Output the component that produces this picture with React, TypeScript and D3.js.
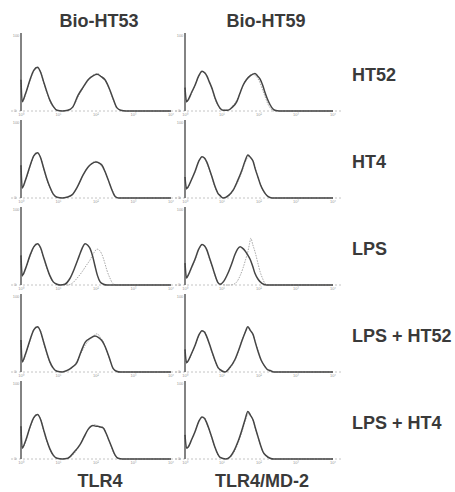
import React from 'react';
import * as d3 from 'd3';

// column headers, bottom axis names and row treatments
const columnTitles = ['Bio-HT53', 'Bio-HT59'];
const axisNames = ['TLR4', 'TLR4/MD-2'];
const rowLabels = ['HT52', 'HT4', 'LPS', 'LPS + HT52', 'LPS + HT4'];
const decadeLabels = ['10⁰', '10¹', '10²', '10³', '10⁴'];

type Pt = [number, number]; // [log10 fluorescence, % of max events]

// ---- TLR4 column (Bio-HT53)
const tlr4Ht52: Pt[] = [[0,40],[0.03,12],[0.12,22],[0.24,40],[0.34,52],[0.44,56],[0.52,50],[0.6,38],[0.68,26],[0.77,14],[0.86,6],[0.96,1],[1.1,0],[1.25,1],[1.38,5],[1.52,20],[1.65,30],[1.79,40],[1.92,45],[2.03,47],[2.14,44],[2.24,40],[2.37,27],[2.47,14],[2.56,4],[2.66,1],[2.8,0],[4,0]];
const tlr4Ht52Ctrl: Pt[] = [[0,38],[0.03,11],[0.12,21],[0.24,39],[0.34,51],[0.44,55],[0.52,51],[0.6,37],[0.68,25],[0.77,13],[0.86,5],[0.96,1],[1.1,0],[1.25,1],[1.4,6],[1.52,18],[1.65,29],[1.79,39],[1.92,46],[2.05,48],[2.16,43],[2.26,38],[2.38,25],[2.48,12],[2.58,3],[2.68,0],[4,0]];
const tlr4Ht4: Pt[] = [[0,42],[0.03,13],[0.12,23],[0.24,41],[0.34,54],[0.44,58],[0.52,52],[0.6,39],[0.68,26],[0.77,14],[0.86,5],[0.96,1],[1.1,0],[1.22,1],[1.36,4],[1.5,14],[1.65,29],[1.78,39],[1.89,44],[2.0,46],[2.08,45],[2.16,42],[2.24,34],[2.32,24],[2.42,11],[2.51,2],[2.6,0],[4,0]];
const tlr4Ht4Ctrl: Pt[] = [[0,40],[0.03,12],[0.12,22],[0.24,40],[0.34,53],[0.44,57],[0.52,53],[0.6,38],[0.68,25],[0.77,13],[0.86,5],[0.96,1],[1.1,0],[1.22,1],[1.38,5],[1.52,16],[1.66,30],[1.79,40],[1.9,45],[1.98,47],[2.08,44],[2.17,40],[2.26,31],[2.34,21],[2.44,9],[2.53,2],[2.62,0],[4,0]];
const tlr4Lps: Pt[] = [[0,38],[0.03,12],[0.12,21],[0.24,38],[0.34,49],[0.44,53],[0.52,48],[0.6,36],[0.68,24],[0.77,12],[0.86,4],[0.96,1],[1.05,0],[1.17,1],[1.3,8],[1.44,23],[1.55,37],[1.63,47],[1.71,53],[1.78,51],[1.84,47],[1.91,37],[1.97,25],[2.04,12],[2.11,4],[2.2,1],[2.3,0],[4,0]];
const tlr4LpsCtrl: Pt[] = [[0,36],[0.03,11],[0.12,20],[0.24,37],[0.34,48],[0.44,52],[0.52,47],[0.6,35],[0.68,23],[0.77,11],[0.86,4],[0.96,1],[1.1,0],[1.25,0],[1.36,2],[1.5,9],[1.63,17],[1.74,25],[1.84,32],[1.94,41],[2.03,46],[2.1,44],[2.16,39],[2.23,29],[2.29,19],[2.37,9],[2.45,2],[2.55,0],[4,0]];
const tlr4LpsHt52: Pt[] = [[0,41],[0.03,13],[0.12,23],[0.24,41],[0.34,54],[0.44,58],[0.52,52],[0.6,39],[0.68,26],[0.77,13],[0.86,5],[0.96,1],[1.1,0],[1.23,2],[1.36,6],[1.49,12],[1.6,26],[1.71,38],[1.84,43],[1.97,46],[2.07,44],[2.16,40],[2.23,34],[2.29,27],[2.37,16],[2.45,5],[2.55,1],[2.65,0],[4,0]];
const tlr4LpsHt52Ctrl: Pt[] = [[0,39],[0.03,12],[0.12,22],[0.24,40],[0.34,53],[0.44,57],[0.52,53],[0.6,38],[0.68,25],[0.77,12],[0.86,4],[0.96,1],[1.1,0],[1.2,1],[1.3,3],[1.44,10],[1.58,22],[1.71,34],[1.84,42],[1.95,47],[2.03,49],[2.12,44],[2.2,38],[2.3,25],[2.4,11],[2.5,2],[2.6,0],[4,0]];
const tlr4LpsHt4: Pt[] = [[0,42],[0.03,14],[0.12,23],[0.24,41],[0.34,53],[0.44,57],[0.52,51],[0.6,38],[0.68,25],[0.77,13],[0.86,5],[0.96,1],[1.1,0],[1.25,1],[1.4,8],[1.57,18],[1.68,28],[1.79,38],[1.92,43],[2.0,42],[2.05,42],[2.12,41],[2.19,40],[2.26,34],[2.32,27],[2.42,15],[2.51,5],[2.59,1],[2.7,0],[4,0]];
const tlr4LpsHt4Ctrl: Pt[] = [[0,40],[0.03,13],[0.12,22],[0.24,40],[0.34,52],[0.44,56],[0.52,52],[0.6,37],[0.68,24],[0.77,12],[0.86,4],[0.96,1],[1.1,0],[1.3,2],[1.45,9],[1.6,21],[1.75,35],[1.88,42],[1.98,44],[2.08,41],[2.18,41],[2.28,32],[2.38,20],[2.48,7],[2.58,1],[2.7,0],[4,0]];

// ---- TLR4/MD-2 column (Bio-HT59)
const md2Ht52: Pt[] = [[0,30],[0.04,12],[0.08,14],[0.18,24],[0.27,33],[0.37,45],[0.46,51],[0.53,49],[0.59,45],[0.66,37],[0.73,29],[0.81,17],[0.89,8],[0.96,3],[1.03,1],[1.16,1],[1.28,5],[1.4,12],[1.48,22],[1.57,33],[1.66,40],[1.76,45],[1.89,48],[1.96,45],[2.03,41],[2.1,33],[2.16,24],[2.23,15],[2.3,8],[2.37,3],[2.43,1],[2.55,0],[4,0]];
const md2Ht52Ctrl: Pt[] = [[0,28],[0.04,11],[0.08,13],[0.18,23],[0.27,32],[0.37,44],[0.46,50],[0.53,50],[0.59,44],[0.66,36],[0.73,28],[0.81,16],[0.89,7],[0.96,2],[1.03,1],[1.16,1],[1.28,6],[1.4,14],[1.5,25],[1.6,36],[1.7,43],[1.8,47],[1.88,46],[1.95,43],[2.02,37],[2.09,28],[2.16,19],[2.24,9],[2.32,3],[2.4,0],[4,0]];
const md2Ht4: Pt[] = [[0,27],[0.04,12],[0.08,14],[0.18,24],[0.27,34],[0.37,47],[0.46,53],[0.53,51],[0.59,46],[0.66,37],[0.73,27],[0.81,15],[0.89,6],[0.95,3],[1.03,0],[1.17,3],[1.3,10],[1.42,22],[1.54,36],[1.62,47],[1.7,55],[1.77,52],[1.84,47],[1.9,37],[1.97,27],[2.04,17],[2.11,10],[2.18,5],[2.24,2],[2.35,0],[4,0]];
const md2Ht4Ctrl: Pt[] = [[0,26],[0.04,11],[0.08,13],[0.18,23],[0.27,33],[0.37,46],[0.46,52],[0.53,52],[0.59,45],[0.66,36],[0.73,26],[0.81,14],[0.89,6],[0.95,2],[1.03,0],[1.17,2],[1.3,9],[1.42,20],[1.54,34],[1.63,46],[1.72,53],[1.79,51],[1.86,45],[1.92,35],[1.99,25],[2.06,15],[2.13,8],[2.2,4],[2.27,1],[2.38,0],[4,0]];
const md2Lps: Pt[] = [[0,28],[0.04,9],[0.08,12],[0.18,23],[0.27,33],[0.37,46],[0.46,52],[0.53,50],[0.59,45],[0.66,35],[0.73,25],[0.81,13],[0.89,3],[0.95,1],[1.05,5],[1.16,15],[1.26,27],[1.35,39],[1.42,46],[1.49,49],[1.56,47],[1.62,44],[1.69,39],[1.76,33],[1.83,24],[1.89,15],[1.98,7],[2.08,2],[2.2,0],[4,0]];
const md2LpsCtrl: Pt[] = [[0,26],[0.04,9],[0.08,11],[0.18,22],[0.27,32],[0.37,45],[0.46,51],[0.53,50],[0.59,44],[0.66,34],[0.73,24],[0.81,12],[0.89,4],[0.98,1],[1.1,0],[1.2,0],[1.32,1],[1.4,4],[1.49,12],[1.57,22],[1.64,33],[1.7,43],[1.74,52],[1.78,60],[1.83,52],[1.89,43],[1.96,30],[2.03,17],[2.1,8],[2.16,2],[2.25,0],[4,0]];
const md2LpsHt52: Pt[] = [[0,29],[0.04,12],[0.08,14],[0.18,24],[0.27,34],[0.37,47],[0.46,53],[0.53,51],[0.59,45],[0.66,36],[0.73,26],[0.81,15],[0.89,6],[0.95,3],[1.08,0],[1.2,5],[1.35,16],[1.45,28],[1.54,40],[1.62,50],[1.7,58],[1.77,53],[1.84,48],[1.9,38],[1.97,27],[2.06,15],[2.16,7],[2.23,3],[2.3,2],[2.4,0],[4,0]];
const md2LpsHt52Ctrl: Pt[] = [[0,27],[0.04,11],[0.08,13],[0.18,23],[0.27,33],[0.37,46],[0.46,52],[0.53,52],[0.59,44],[0.66,35],[0.73,25],[0.81,14],[0.89,5],[0.95,2],[1.08,0],[1.2,4],[1.35,15],[1.46,29],[1.55,42],[1.63,51],[1.71,56],[1.78,52],[1.85,46],[1.92,36],[1.99,25],[2.08,13],[2.17,6],[2.25,2],[2.35,0],[4,0]];
const md2LpsHt4: Pt[] = [[0,31],[0.04,14],[0.08,15],[0.18,25],[0.27,35],[0.37,48],[0.46,54],[0.53,52],[0.59,46],[0.66,37],[0.73,27],[0.81,15],[0.89,6],[0.95,2],[1.1,0],[1.22,3],[1.32,10],[1.43,22],[1.53,36],[1.62,50],[1.7,61],[1.77,56],[1.84,50],[1.9,40],[1.97,29],[2.04,18],[2.11,9],[2.2,4],[2.3,1],[2.4,0],[4,0]];
const md2LpsHt4Ctrl: Pt[] = [[0,29],[0.04,13],[0.08,14],[0.18,24],[0.27,34],[0.37,47],[0.46,53],[0.53,53],[0.59,45],[0.66,36],[0.73,26],[0.81,14],[0.89,5],[0.95,2],[1.1,0],[1.22,2],[1.33,9],[1.44,21],[1.54,35],[1.63,49],[1.71,58],[1.78,55],[1.85,48],[1.91,38],[1.98,27],[2.05,16],[2.12,8],[2.21,3],[2.3,1],[2.4,0],[4,0]];

// panels[column][row] = [solid, dotted]
const panels: Pt[][][] = [
  [[tlr4Ht52, tlr4Ht52Ctrl], [tlr4Ht4, tlr4Ht4Ctrl], [tlr4Lps, tlr4LpsCtrl], [tlr4LpsHt52, tlr4LpsHt52Ctrl], [tlr4LpsHt4, tlr4LpsHt4Ctrl]],
  [[md2Ht52, md2Ht52Ctrl], [md2Ht4, md2Ht4Ctrl], [md2Lps, md2LpsCtrl], [md2LpsHt52, md2LpsHt52Ctrl], [md2LpsHt4, md2LpsHt4Ctrl]],
];

const W = 455;
const H = 492;
const colX = [[21, 171], [185, 333]];   // x range of 10^0..10^4 per column
const firstBase = 111;
const rowStep = 87;
const panelH = 78;
const font = '"Liberation Sans", Arial, sans-serif';
const textColor = '#3a3a3a';

const App = () => {
  return (
    <svg width={W} height={H} style={{ position: 'absolute', left: 0, top: 0, background: '#fff' }}>
      <rect width={W} height={H} fill="#fff" />
      {columnTitles.map((t, c) => (
        <text key={t} x={c === 0 ? 99 : 266} y={27} textAnchor="middle" fontFamily={font}
          fontWeight="bold" fontSize={18} fill={textColor}>{t}</text>
      ))}
      {axisNames.map((t, c) => (
        <text key={t} x={c === 0 ? 100 : 262} y={487} textAnchor="middle" fontFamily={font}
          fontWeight="bold" fontSize={18} fill={textColor}>{t}</text>
      ))}
      {rowLabels.map((t, r) => (
        <text key={t} x={352} y={firstBase + r * rowStep - 30} fontFamily={font}
          fontWeight="bold" fontSize={18} fill={textColor}>{t}</text>
      ))}
      {panels.map((col, c) => {
        const x = d3.scaleLinear().domain([0, 4]).range(colX[c]);
        return col.map((curves, r) => {
          const base = firstBase + r * rowStep;
          const y = d3.scaleLinear().domain([0, 100]).range([base, base - panelH]);
          const line = d3.line<Pt>().x(d => x(d[0])).y(d => y(d[1])).curve(d3.curveMonotoneX);
          const x0 = x(0);
          return (
            <g key={`${c}-${r}`}>
              {/* dashed baseline */}
              <line x1={x0 - 10} x2={x(4) + 10} y1={base} y2={base} stroke="#b5b5b5"
                strokeWidth={0.8} strokeDasharray="2,2" />
              {decadeLabels.map((l, i) => (
                <text key={l} x={x(i)} y={base + 5} textAnchor="middle" fontFamily={font}
                  fontSize={4} fill="#999">{l}</text>
              ))}
              {/* y axis */}
              <line x1={x0} x2={x0} y1={y(100)} y2={base} stroke="#5a5a5a" strokeWidth={1.5} />
              <text x={x0 - 5} y={y(100) + 4} textAnchor="middle" fontFamily={font}
                fontSize={4} fill="#999">100</text>
              <text x={x0 - 6} y={base + 1} textAnchor="middle" fontFamily={font}
                fontSize={4} fill="#999">0</text>
              <path d={line(curves[1]) || ''} fill="none" stroke="#a8a8a8" strokeWidth={1}
                strokeDasharray="1.5,1.2" />
              <path d={line(curves[0]) || ''} fill="none" stroke="#454545" strokeWidth={1.5}
                strokeLinejoin="round" />
            </g>
          );
        });
      })}
    </svg>
  );
};

export default App;
